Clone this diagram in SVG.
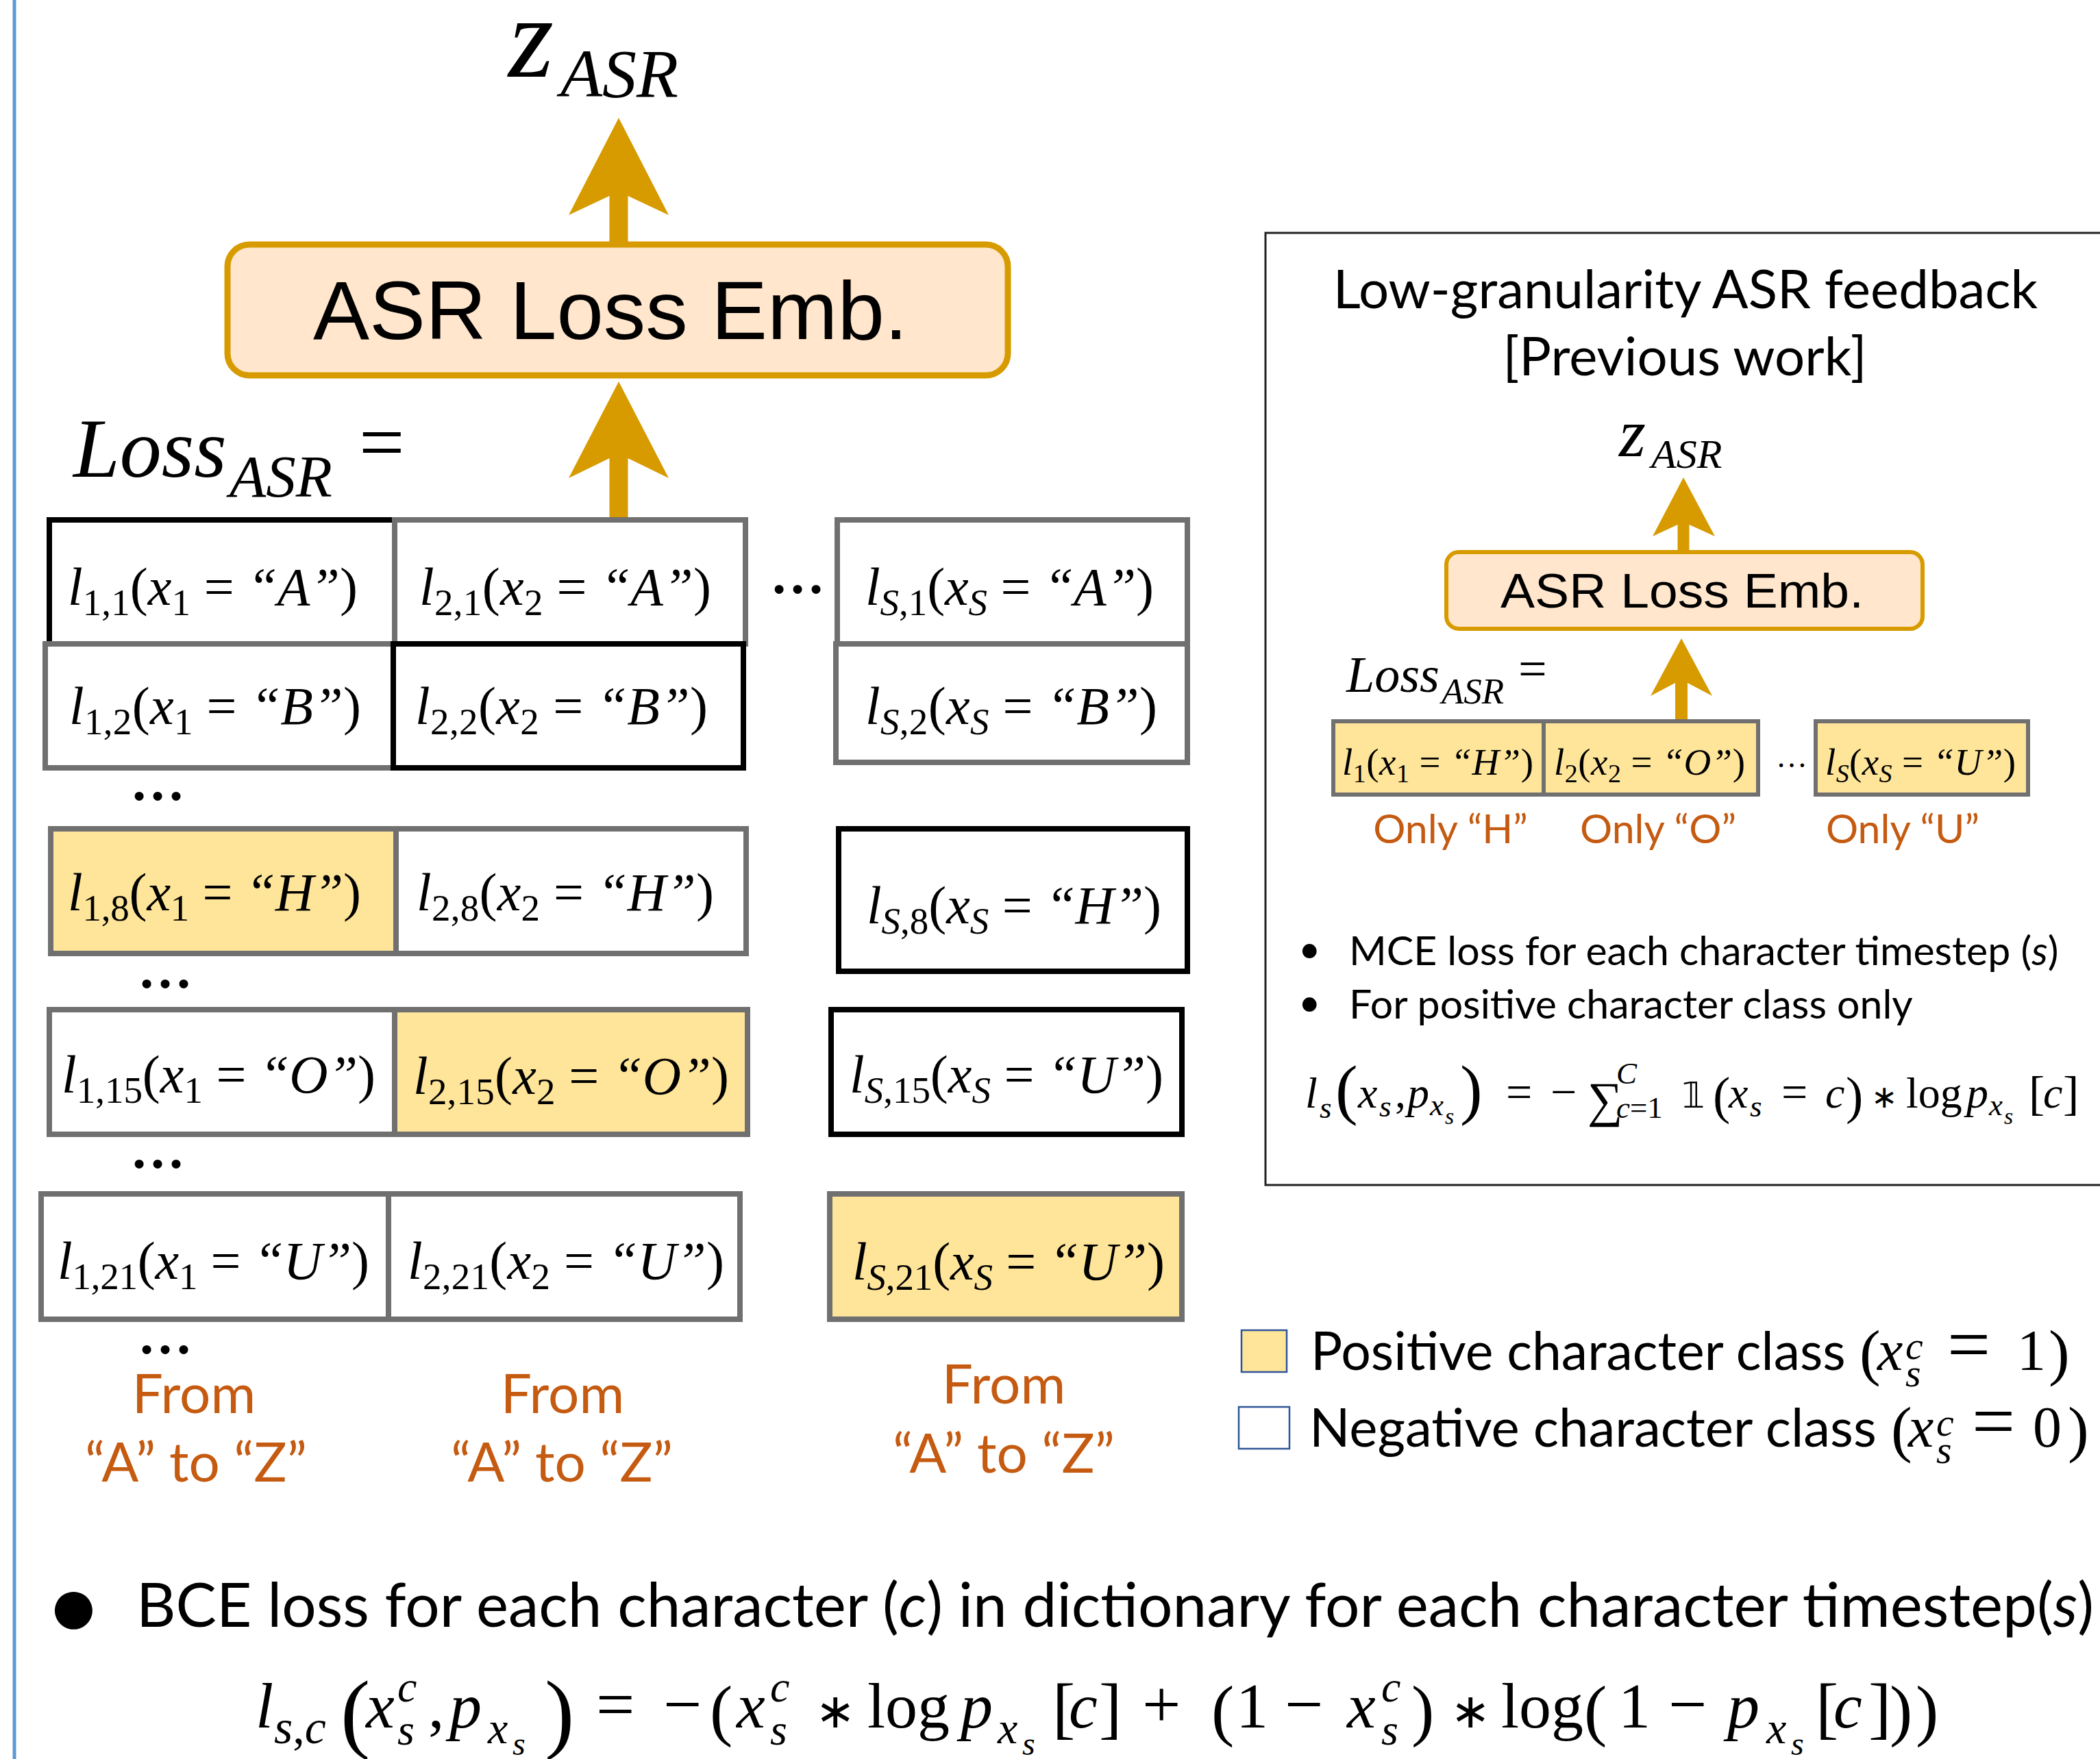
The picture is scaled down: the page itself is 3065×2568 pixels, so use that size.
<svg xmlns="http://www.w3.org/2000/svg" width="3065" height="2568" viewBox="0 0 3065 2568">
<style>
.m{font-family:"Liberation Serif","Times New Roman",serif;fill:#000}
.i{font-style:italic}
.c{font-size:78px}
.s{font-size:55px}
.ss{font-size:38px}
.cal{font-family:Lato,"Open Sans",sans-serif;fill:#000}
.or{fill:#C55A11}
.ar{font-family:"Liberation Sans",Arial,sans-serif;fill:#000}
.gray{fill:#fff;stroke:#707070;stroke-width:8}
.grayy{fill:#FFE599;stroke:#707070;stroke-width:8}
.blk{fill:#fff;stroke:#000;stroke-width:8}
.sg{fill:#FFE599;stroke:#707070;stroke-width:6}
.arrow{fill:#D79B00}
.dots{font-family:"Liberation Serif",serif;font-weight:bold;font-size:80px}
.sym{font-family:"DejaVu Sans",sans-serif}
</style>
<rect x="0" y="0" width="3065" height="2568" fill="#fff"/>
<line x1="21" y1="0" x2="21" y2="2568" stroke="#5B9BD5" stroke-width="5"/>

<g id="connectors">
<polygon class="arrow" points="903,172 976,314 916.5,286 916.5,362 889.5,362 889.5,286 830,314"/>
<polygon class="arrow" points="903,557 976,698 916.5,669 916.5,757 889.5,757 889.5,669 830,698"/>
<polygon class="arrow" points="2457,697 2503,783 2465.5,766 2465.5,808 2448.5,808 2448.5,766 2412,783"/>
<polygon class="arrow" points="2454,932 2499,1016 2463,997 2463,1053 2445,1053 2445,997 2409,1016"/>
</g>

<g id="zasr">
<text class="m i" x="742" y="112" font-size="170">z</text>
<text class="m i" x="818" y="141" font-size="100">ASR</text>
</g>

<g id="asr-loss-emb">
<rect x="332" y="357" width="1139" height="191" rx="32" fill="#FFE6CC" stroke="#D79B00" stroke-width="9"/>
<text class="ar" x="457" y="495" font-size="121" textLength="868" lengthAdjust="spacingAndGlyphs">ASR Loss Emb.</text>
</g>

<g id="loss-asr">
<text class="m i" x="107" y="696" font-size="122">Loss</text>
<text class="m i" x="335" y="725" font-size="87">ASR</text>
<text class="m" x="524" y="686" font-size="118">=</text>
</g>

<g id="grid">
<g id="cell-1-1"><rect class="blk" x="72" y="759" width="504" height="181"/></g>
<g id="cell-2-1"><rect class="gray" x="576" y="759" width="512" height="181"/></g>
<g id="cell-1-2"><rect class="gray" x="66" y="940" width="508" height="181"/></g>
<g id="cell-2-2"><rect class="blk" x="574" y="940" width="511" height="181"/></g>
<g id="cell-s-1"><rect class="gray" x="1222" y="759" width="511" height="181"/></g>
<g id="cell-s-2"><rect class="gray" x="1220" y="940" width="513" height="173"/></g>

<g id="cell-1-8"><rect class="grayy" x="74" y="1210" width="504" height="182"/></g>
<g id="cell-2-8"><rect class="gray" x="578" y="1210" width="511" height="182"/></g>
<g id="cell-s-8"><rect class="blk" x="1224" y="1210" width="509" height="208"/></g>

<g id="cell-1-15"><rect class="gray" x="72" y="1474" width="504" height="182"/></g>
<g id="cell-2-15"><rect class="grayy" x="576" y="1474" width="515" height="182"/></g>
<g id="cell-s-15"><rect class="blk" x="1213" y="1474" width="512" height="182"/></g>

<g id="cell-1-21"><rect class="gray" x="60" y="1743" width="507" height="183"/></g>
<g id="cell-2-21"><rect class="gray" x="567" y="1743" width="513" height="183"/></g>
<g id="cell-s-21"><rect class="grayy" x="1211" y="1743" width="514" height="183"/></g>

<text class="m c" x="99" y="883" textLength="423"><tspan class="i">l</tspan><tspan class="s" dy="15">1,1</tspan><tspan dy="-15">(</tspan><tspan class="i">x</tspan><tspan class="s" dy="15">1</tspan><tspan dy="-15"> = </tspan><tspan class="i">“A”</tspan>)</text>
<text class="m c" x="612" y="883" textLength="426"><tspan class="i">l</tspan><tspan class="s" dy="15">2,1</tspan><tspan dy="-15">(</tspan><tspan class="i">x</tspan><tspan class="s" dy="15">2</tspan><tspan dy="-15"> = </tspan><tspan class="i">“A”</tspan>)</text>
<text class="m c" x="1263" y="883" textLength="421"><tspan class="i">l</tspan><tspan class="s" dy="15"><tspan class="i">S</tspan>,1</tspan><tspan dy="-15">(</tspan><tspan class="i">x</tspan><tspan class="s i" dy="15">S</tspan><tspan dy="-15"> = </tspan><tspan class="i">“A”</tspan>)</text>

<text class="m c" x="101" y="1057" textLength="426"><tspan class="i">l</tspan><tspan class="s" dy="15">1,2</tspan><tspan dy="-15">(</tspan><tspan class="i">x</tspan><tspan class="s" dy="15">1</tspan><tspan dy="-15"> = </tspan><tspan class="i">“B”</tspan>)</text>
<text class="m c" x="606" y="1057" textLength="427"><tspan class="i">l</tspan><tspan class="s" dy="15">2,2</tspan><tspan dy="-15">(</tspan><tspan class="i">x</tspan><tspan class="s" dy="15">2</tspan><tspan dy="-15"> = </tspan><tspan class="i">“B”</tspan>)</text>
<text class="m c" x="1263" y="1057" textLength="426"><tspan class="i">l</tspan><tspan class="s" dy="15"><tspan class="i">S</tspan>,2</tspan><tspan dy="-15">(</tspan><tspan class="i">x</tspan><tspan class="s i" dy="15">S</tspan><tspan dy="-15"> = </tspan><tspan class="i">“B”</tspan>)</text>

<text class="m c" x="99" y="1329" textLength="428"><tspan class="i">l</tspan><tspan class="s" dy="15">1,8</tspan><tspan dy="-15">(</tspan><tspan class="i">x</tspan><tspan class="s" dy="15">1</tspan><tspan dy="-15"> = </tspan><tspan class="i">“H”</tspan>)</text>
<text class="m c" x="608" y="1329" textLength="434"><tspan class="i">l</tspan><tspan class="s" dy="15">2,8</tspan><tspan dy="-15">(</tspan><tspan class="i">x</tspan><tspan class="s" dy="15">2</tspan><tspan dy="-15"> = </tspan><tspan class="i">“H”</tspan>)</text>
<text class="m c" x="1265" y="1348" textLength="430"><tspan class="i">l</tspan><tspan class="s" dy="15"><tspan class="i">S</tspan>,8</tspan><tspan dy="-15">(</tspan><tspan class="i">x</tspan><tspan class="s i" dy="15">S</tspan><tspan dy="-15"> = </tspan><tspan class="i">“H”</tspan>)</text>

<text class="m c" x="90" y="1595" textLength="458"><tspan class="i">l</tspan><tspan class="s" dy="15">1,15</tspan><tspan dy="-15">(</tspan><tspan class="i">x</tspan><tspan class="s" dy="15">1</tspan><tspan dy="-15"> = </tspan><tspan class="i">“O”</tspan>)</text>
<text class="m c" x="603" y="1597" textLength="461"><tspan class="i">l</tspan><tspan class="s" dy="15">2,15</tspan><tspan dy="-15">(</tspan><tspan class="i">x</tspan><tspan class="s" dy="15">2</tspan><tspan dy="-15"> = </tspan><tspan class="i">“O”</tspan>)</text>
<text class="m c" x="1240" y="1595" textLength="458"><tspan class="i">l</tspan><tspan class="s" dy="15"><tspan class="i">S</tspan>,15</tspan><tspan dy="-15">(</tspan><tspan class="i">x</tspan><tspan class="s i" dy="15">S</tspan><tspan dy="-15"> = </tspan><tspan class="i">“U”</tspan>)</text>

<text class="m c" x="84" y="1867" textLength="455"><tspan class="i">l</tspan><tspan class="s" dy="15">1,21</tspan><tspan dy="-15">(</tspan><tspan class="i">x</tspan><tspan class="s" dy="15">1</tspan><tspan dy="-15"> = </tspan><tspan class="i">“U”</tspan>)</text>
<text class="m c" x="595" y="1867" textLength="462"><tspan class="i">l</tspan><tspan class="s" dy="15">2,21</tspan><tspan dy="-15">(</tspan><tspan class="i">x</tspan><tspan class="s" dy="15">2</tspan><tspan dy="-15"> = </tspan><tspan class="i">“U”</tspan>)</text>
<text class="m c" x="1244" y="1868" textLength="456"><tspan class="i">l</tspan><tspan class="s" dy="15"><tspan class="i">S</tspan>,21</tspan><tspan dy="-15">(</tspan><tspan class="i">x</tspan><tspan class="s i" dy="15">S</tspan><tspan dy="-15"> = </tspan><tspan class="i">“U”</tspan>)</text>

<text class="dots" x="1124" y="866">…</text>
<text class="dots" x="190" y="1168">…</text>
<text class="dots" x="201" y="1442">…</text>
<text class="dots" x="190" y="1705">…</text>
<text class="dots" x="201" y="1976">…</text>
</g>

<g id="from-labels">
<text class="cal or" font-size="80" text-anchor="middle" x="283" y="2063">From</text>
<text class="cal or" font-size="80" text-anchor="middle" x="286" y="2163">“A” to “Z”</text>
<text class="cal or" font-size="80" text-anchor="middle" x="821" y="2063">From</text>
<text class="cal or" font-size="80" text-anchor="middle" x="820" y="2163">“A” to “Z”</text>
<text class="cal or" font-size="80" text-anchor="middle" x="1465" y="2049">From</text>
<text class="cal or" font-size="80" text-anchor="middle" x="1465" y="2150">“A” to “Z”</text>
</g>

<g id="previous-work-panel">
<rect x="1847" y="340" width="1300" height="1390" fill="none" stroke="#222" stroke-width="3"/>
<text class="cal" font-size="78" text-anchor="middle" x="2460" y="450">Low-granularity ASR feedback</text>
<text class="cal" font-size="78" text-anchor="middle" x="2459" y="548">[Previous work]</text>
<text class="m i" x="2363" y="666" font-size="100">z</text>
<text class="m i" x="2410" y="683" font-size="60">ASR</text>
<rect x="2111" y="806" width="695" height="112" rx="18" fill="#FFE6CC" stroke="#D79B00" stroke-width="6"/>
<text class="ar" x="2190" y="887" font-size="70" textLength="530" lengthAdjust="spacingAndGlyphs">ASR Loss Emb.</text>
<text class="m i" x="1965" y="1010" font-size="74">Loss</text>
<text class="m i" x="2104" y="1027" font-size="53">ASR</text>
<text class="m" x="2216" y="1001" font-size="74">=</text>
<rect class="sg" x="1946" y="1053" width="307" height="107"/>
<rect class="sg" x="2253" y="1053" width="313" height="107"/>
<rect class="sg" x="2650" y="1053" width="310" height="107"/>
<text class="m" font-size="55" x="1959" y="1131" textLength="279"><tspan class="i">l</tspan><tspan class="ss" dy="11">1</tspan><tspan dy="-11">(</tspan><tspan class="i">x</tspan><tspan class="ss" dy="11">1</tspan><tspan dy="-11"> = </tspan><tspan class="i">“H”</tspan>)</text>
<text class="m" font-size="55" x="2268" y="1131" textLength="279"><tspan class="i">l</tspan><tspan class="ss" dy="11">2</tspan><tspan dy="-11">(</tspan><tspan class="i">x</tspan><tspan class="ss" dy="11">2</tspan><tspan dy="-11"> = </tspan><tspan class="i">“O”</tspan>)</text>
<text class="m" font-size="55" x="2664" y="1131" textLength="278"><tspan class="i">l</tspan><tspan class="ss i" dy="11">S</tspan><tspan dy="-11">(</tspan><tspan class="i">x</tspan><tspan class="ss i" dy="11">S</tspan><tspan dy="-11"> = </tspan><tspan class="i">“U”</tspan>)</text>
<text class="m" font-size="46" x="2592" y="1120">…</text>
<text class="cal or" font-size="59" text-anchor="middle" x="2117" y="1231">Only “H”</text>
<text class="cal or" font-size="59" text-anchor="middle" x="2420" y="1231">Only “O”</text>
<text class="cal or" font-size="59" text-anchor="middle" x="2777" y="1231">Only “U”</text>
<text class="cal" font-size="56" x="1895" y="1405">•</text>
<text class="cal" font-size="59" x="1969" y="1409">MCE loss for each character timestep (<tspan font-style="italic">s</tspan>)</text>
<text class="cal" font-size="56" x="1895" y="1483">•</text>
<text class="cal" font-size="59" x="1969" y="1487">For positive character class only</text>
<text class="m" font-size="64" y="1617"><tspan class="i" x="1905">l</tspan><tspan class="i" x="1926" y="1632" font-size="45">s</tspan><tspan x="1949" y="1623" font-size="98">(</tspan><tspan class="i" x="1982" y="1617">x</tspan><tspan class="i" x="2013" y="1630" font-size="45">s</tspan><tspan x="2036" y="1617">,</tspan><tspan class="i" x="2054">p</tspan><tspan class="i" x="2087" y="1628" font-size="45">x</tspan><tspan class="i" x="2109" y="1641" font-size="34">s</tspan><tspan x="2131" y="1623" font-size="98">)</tspan><tspan x="2198" y="1617" font-size="68">=</tspan><tspan x="2263" font-size="68">−</tspan><tspan x="2317" y="1630" font-size="72">∑</tspan><tspan class="i" x="2359" y="1582" font-size="45">C</tspan><tspan x="2359" y="1632" font-size="45"><tspan class="i">c</tspan>=1</tspan><tspan class="sym" x="2455" y="1617" font-size="52">𝟙</tspan><tspan x="2500" y="1625" font-size="76">(</tspan><tspan class="i" x="2523" y="1617">x</tspan><tspan class="i" x="2554" y="1630" font-size="45">s</tspan><tspan x="2600" y="1617" font-size="68">=</tspan><tspan class="i" x="2664">c</tspan><tspan x="2694" y="1625" font-size="76">)</tspan><tspan class="sym" x="2731" y="1617" font-size="46">∗</tspan><tspan x="2782">log</tspan><tspan class="i" x="2870">p</tspan><tspan class="i" x="2903" y="1628" font-size="45">x</tspan><tspan class="i" x="2925" y="1641" font-size="34">s</tspan><tspan x="2961" y="1620" font-size="70">[</tspan><tspan class="i" x="2982" y="1617">c</tspan><tspan x="3011" y="1620" font-size="70">]</tspan></text>
</g>

<g id="legend">
<rect x="1812" y="1942" width="66" height="61" fill="#FFE599" stroke="#2F5597" stroke-width="2.5"/>
<rect x="1808" y="2054" width="74" height="61" fill="#fff" stroke="#2F5597" stroke-width="2.5"/>
<text class="cal" font-size="77" x="1913" y="2000">Positive character class</text>
<text class="m" font-size="84" y="2000"><tspan x="2714" y="2005" font-size="92">(</tspan><tspan class="i" x="2740" y="2000">x</tspan><tspan class="i" x="2781" y="1984" font-size="58">c</tspan><tspan class="i" x="2781" y="2024" font-size="58">s</tspan><tspan x="2842" y="2000" font-size="112">=</tspan><tspan x="2944">1</tspan><tspan x="2990" y="2005" font-size="92">)</tspan></text>
<text class="cal" font-size="78" x="1911" y="2112">Negative character class</text>
<text class="m" font-size="84" y="2112"><tspan x="2760" y="2117" font-size="92">(</tspan><tspan class="i" x="2785" y="2112">x</tspan><tspan class="i" x="2826" y="2096" font-size="58">c</tspan><tspan class="i" x="2826" y="2136" font-size="58">s</tspan><tspan x="2878" y="2112" font-size="112">=</tspan><tspan x="2967">0</tspan><tspan x="3018" y="2117" font-size="92">)</tspan></text>
</g>

<g id="bce-note">
<text class="sym" font-size="72" x="76" y="2370">●</text>
<text class="cal" font-size="89" x="199" y="2375">BCE loss for each character (<tspan font-style="italic">c</tspan>) in dictionary for each character timestep(<tspan font-style="italic">s</tspan>)</text>
<text class="m" font-size="94" y="2522"><tspan class="i" x="373">l</tspan><tspan x="400" y="2545" font-size="70"><tspan class="i">s</tspan>,<tspan class="i">c</tspan></tspan><tspan x="497" y="2543" font-size="130">(</tspan><tspan class="i" x="534" y="2522">x</tspan><tspan class="i" x="580" y="2484" font-size="64">c</tspan><tspan class="i" x="580" y="2547" font-size="64">s</tspan><tspan x="625" y="2522">,</tspan><tspan class="i" x="656">p</tspan><tspan class="i" x="712" y="2545" font-size="66">x</tspan><tspan class="i" x="748" y="2562" font-size="48">s</tspan><tspan x="795" y="2543" font-size="130">)</tspan><tspan x="870" y="2522" font-size="100">=</tspan><tspan x="968" font-size="100">−</tspan><tspan x="1036" y="2530" font-size="100">(</tspan><tspan class="i" x="1075" y="2522">x</tspan><tspan class="i" x="1124" y="2484" font-size="64">c</tspan><tspan class="i" x="1124" y="2547" font-size="64">s</tspan><tspan class="sym" x="1190" y="2522" font-size="70">∗</tspan><tspan x="1266">log</tspan><tspan class="i" x="1402">p</tspan><tspan class="i" x="1456" y="2545" font-size="66">x</tspan><tspan class="i" x="1492" y="2562" font-size="48">s</tspan><tspan x="1536" y="2527" font-size="100">[</tspan><tspan class="i" x="1560" y="2522">c</tspan><tspan x="1604" y="2527" font-size="100">]</tspan><tspan x="1667" y="2522" font-size="100">+</tspan><tspan x="1768" y="2530" font-size="100">(</tspan><tspan x="1804" y="2522">1</tspan><tspan x="1875" font-size="100">−</tspan><tspan class="i" x="1966">x</tspan><tspan class="i" x="2016" y="2484" font-size="64">c</tspan><tspan class="i" x="2016" y="2547" font-size="64">s</tspan><tspan x="2060" y="2530" font-size="100">)</tspan><tspan class="sym" x="2117" y="2522" font-size="70">∗</tspan><tspan x="2191">log</tspan><tspan x="2312" y="2530" font-size="100">(</tspan><tspan x="2362" y="2522">1</tspan><tspan x="2435" font-size="100">−</tspan><tspan class="i" x="2521">p</tspan><tspan class="i" x="2578" y="2545" font-size="66">x</tspan><tspan class="i" x="2614" y="2562" font-size="48">s</tspan><tspan x="2650" y="2527" font-size="100">[</tspan><tspan class="i" x="2676" y="2522">c</tspan><tspan x="2727" y="2527" font-size="100">]</tspan><tspan x="2758" y="2530" font-size="100">)</tspan><tspan x="2796" font-size="100">)</tspan></text>
</g>
</svg>
